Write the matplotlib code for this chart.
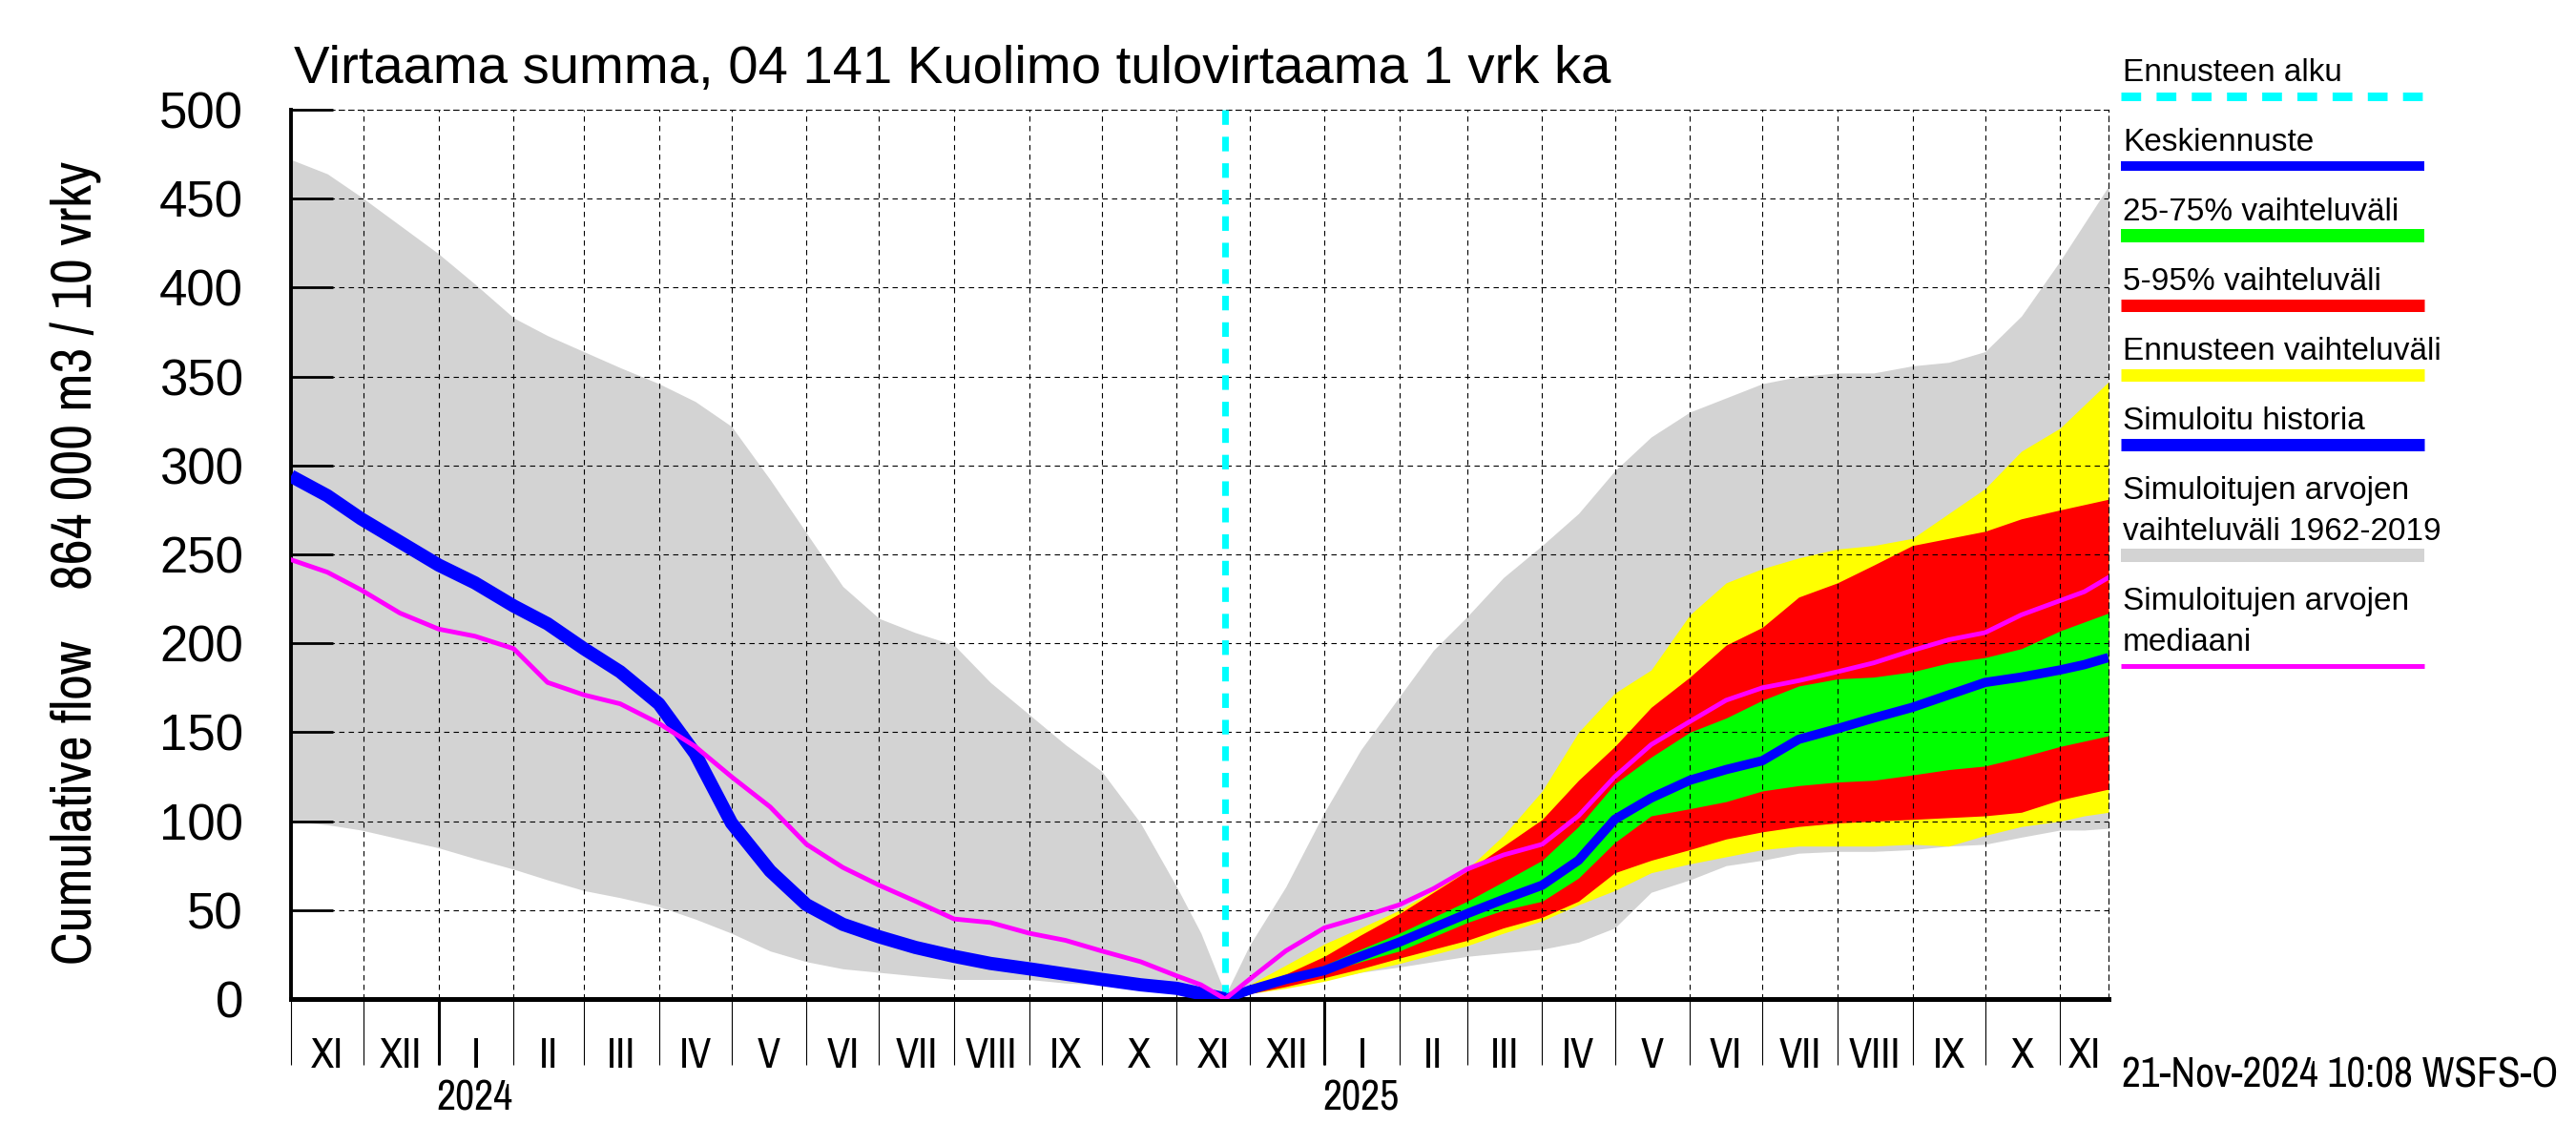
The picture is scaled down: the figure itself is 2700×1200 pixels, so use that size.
import numpy as np
import pandas as pd
import matplotlib
matplotlib.use('Agg')
import matplotlib.pyplot as plt
import matplotlib.dates as mdates
from matplotlib.lines import Line2D
from matplotlib.ticker import FixedLocator, FixedFormatter, NullFormatter, MultipleLocator
from matplotlib import font_manager

# Forecast start; all day offsets below are relative to it
start = pd.Timestamp('2024-11-21')
x_first = pd.Timestamp('2023-11-01')
x_last = pd.Timestamp('2025-11-21')

# HISTORY SIDE (cumulative flow summed back to the forecast start)
hist_days = [-386, -371, -357, -341, -325, -310, -294, -280, -265, -250, -234, -219, -204,
             -188, -173, -158, -143, -128, -112, -97, -81, -66, -51, -35, -20, -10, 0]
hist_sim = [294, 283, 270, 257, 244, 234, 221, 211, 197, 184, 166, 138, 99,
            72, 53, 42, 35, 29, 24, 20, 17, 14, 11, 8, 6, 3, 0]
hist_median = [247, 240, 230, 217, 208, 204, 197, 178, 171, 166, 155, 142, 125,
               108, 87, 74, 64, 55, 45, 43, 37, 33, 27, 21, 13, 8, 0]
hist_max = [472, 464, 451, 435, 419, 402, 383, 373, 364, 355, 346, 336, 322,
            292, 262, 232, 214, 206, 199, 178, 160, 143, 128, 99, 63, 37, 3]
hist_min = [100, 98, 95, 90, 85, 79, 73, 67, 61, 57, 52, 45, 37,
            27, 21, 17, 15, 13, 11, 11, 11, 9, 8, 5, 3, 1, 0]

# FORECAST SIDE (cumulative flow from the forecast start)
fc_days = [0, 10, 25, 41, 56, 72, 86, 100, 115, 131, 146, 161, 176, 192, 207, 222, 237,
           253, 268, 284, 299, 314, 329, 345, 355, 365]
fc_sim_max = [2, 30, 63, 105, 140, 170, 196, 215, 237, 255, 273, 297, 316, 330, 338, 346, 350,
              352, 352, 356, 358, 364, 384, 415, 436, 457]
fc_sim_min = [0, 3, 7, 11, 15, 18, 21, 24, 26, 28, 32, 40, 60, 67, 75, 78, 82,
              83, 83, 84, 86, 87, 91, 95, 95, 96]
fc_ens_max = [0, 8, 19, 31, 40, 50, 61, 73, 92, 117, 150, 172, 185, 216, 234, 242, 248,
              253, 255, 259, 273, 287, 308, 321, 334, 347]
fc_ens_min = [0, 3, 6, 10, 15, 20, 25, 30, 37, 44, 53, 61, 71, 76, 80, 84, 86,
              86, 86, 87, 86, 92, 97, 100, 103, 105]
fc_p95 = [0, 6, 14, 24, 36, 48, 60, 72, 86, 101, 123, 142, 164, 181, 199, 209, 226,
          234, 244, 255, 259, 263, 270, 275, 278, 281]
fc_p05 = [0, 3, 7, 12, 17, 23, 28, 33, 40, 46, 55, 71, 78, 84, 90, 94, 97,
          99, 100, 101, 102, 103, 105, 112, 115, 118]
fc_p75 = [0, 5, 12, 19, 28, 37, 46, 55, 66, 78, 97, 121, 136, 150, 158, 168, 176,
          180, 181, 184, 189, 192, 197, 207, 212, 217]
fc_p25 = [0, 4, 9, 15, 21, 27, 35, 43, 50, 55, 68, 88, 103, 107, 111, 117, 120,
          122, 123, 126, 129, 131, 136, 142, 145, 148]
fc_mean = [0, 5, 11, 16, 24, 32, 40, 48, 56, 64, 78, 101, 113, 123, 129, 134, 146,
           152, 158, 164, 171, 178, 181, 185, 188, 192]
fc_median = [0, 11, 27, 40, 46, 53, 62, 73, 81, 87, 103, 125, 143, 156, 168, 175, 179,
             184, 189, 196, 202, 206, 216, 224, 229, 237]

roman = ['I', 'II', 'III', 'IV', 'V', 'VI', 'VII', 'VIII', 'IX', 'X', 'XI', 'XII']

title = 'Virtaama summa, 04 141 Kuolimo tulovirtaama 1 vrk ka'
ylabel = 'Cumulative flow    864 000 m3 / 10 vrky'
stamp = '21-Nov-2024 10:08 WSFS-O'

legend_items = [
    (['Ennusteen alku'], '#00ffff', 9, True),
    (['Keskiennuste'], '#0000ff', 10, False),
    (['25-75% vaihteluväli'], '#00ff00', 14, False),
    (['5-95% vaihteluväli'], '#ff0000', 13, False),
    (['Ennusteen vaihteluväli'], '#ffff00', 13, False),
    (['Simuloitu historia'], '#0000ff', 13, False),
    (['Simuloitujen arvojen', 'vaihteluväli 1962-2019'], '#d3d3d3', 14, False),
    (['Simuloitujen arvojen', 'mediaani'], '#ff00ff', 5, False),
]

# fonts: regular Helvetica-like, plus a condensed one for axis annotations if there is one
names = {f.name for f in font_manager.fontManager.ttflist}
regular = 'Liberation Sans' if 'Liberation Sans' in names else 'DejaVu Sans'
plt.rcParams['font.family'] = regular
narrow_files = [f.fname for f in font_manager.fontManager.ttflist
                if f.name in ('Liberation Sans Narrow', 'DejaVu Sans')
                and 'ondensed' in f.fname + str(f.stretch) and f.weight in (400, 'normal')
                and f.style == 'normal']
if any('Narrow' in n for n in names):
    narrow = font_manager.FontProperties(family=[n for n in names if 'Narrow' in n][0])
    narrow_scale = 1.0
elif narrow_files:
    narrow = font_manager.FontProperties(fname=narrow_files[0])
    narrow_scale = 1.0
else:
    narrow = font_manager.FontProperties(family=regular)
    narrow_scale = 0.8

hx = start + pd.to_timedelta(hist_days, unit='D')
fx = start + pd.to_timedelta(fc_days, unit='D')

W, H = 2700, 1200
fig = plt.figure(figsize=(27, 12), dpi=100)
ax = fig.add_axes([305 / W, 1 - 1047 / H, (2210 - 305) / W, (1047 - 115) / H])

# envelopes
ax.fill_between(hx, hist_min, hist_max, color='#d3d3d3', lw=0, zorder=1)
ax.fill_between(fx, fc_sim_min, fc_sim_max, color='#d3d3d3', lw=0, zorder=1)
ax.fill_between(fx, fc_ens_min, fc_ens_max, color='#ffff00', lw=0, zorder=1.1)
ax.fill_between(fx, fc_p05, fc_p95, color='#ff0000', lw=0, zorder=1.2)
ax.fill_between(fx, fc_p25, fc_p75, color='#00ff00', lw=0, zorder=1.3)

# forecast start
ax.axvline(start, color='#00ffff', lw=5, dashes=(2.2, 1.8), zorder=2.8)

# lines
ax.plot(fx, fc_mean, color='#0000ff', lw=7, zorder=3, solid_capstyle='butt')
ax.plot(hx, hist_sim, color='#0000ff', lw=10, zorder=3, solid_capstyle='butt')
ax.plot(hx, hist_median, color='#ff00ff', lw=3.5, zorder=4)
ax.plot(fx, fc_median, color='#ff00ff', lw=3.5, zorder=4)

ax.set_xlim(x_first, x_last)
ax.set_ylim(0, 500)

# grid
ax.grid(True, which='major', color='black', lw=0.8, dashes=(5, 4))
ax.set_axisbelow(False)

# spines
ax.spines['left'].set_linewidth(2.8)
ax.spines['bottom'].set_linewidth(3.6)
for side in ['top', 'right']:
    ax.spines[side].set_linewidth(0.8)
    ax.spines[side].set_linestyle((0, (5, 4)))

# y axis
ax.yaxis.set_major_locator(MultipleLocator(50))
ax.tick_params(axis='y', direction='in', length=32, width=2, labelsize=38, pad=36)

# x axis: month boundaries as ticks, roman labels centred in each month
ax.xaxis.set_major_locator(mdates.MonthLocator())
ax.xaxis.set_major_formatter(NullFormatter())
months = pd.date_range(x_first, x_last, freq='MS')
mid_pos, mid_lab = [], []
for m in months:
    a = mdates.date2num(max(m, x_first))
    b = mdates.date2num(min(m + pd.offsets.MonthBegin(1), x_last))
    if b > a:
        mid_pos.append((a + b) / 2)
        mid_lab.append(roman[m.month - 1])
ax.xaxis.set_minor_locator(FixedLocator(mid_pos))
ax.xaxis.set_minor_formatter(FixedFormatter(mid_lab))
ax.tick_params(axis='x', which='major', direction='out', length=50, width=0.8)
ax.tick_params(axis='x', which='minor', length=0, pad=29)
for lab in ax.xaxis.get_minorticklabels():
    lab.set_fontproperties(narrow)
    lab.set_fontsize(34.5 * narrow_scale)

# year ticks and labels
sec = ax.secondary_xaxis('bottom')
sec.spines['bottom'].set_visible(False)
sec.xaxis.set_major_locator(mdates.YearLocator())
sec.xaxis.set_major_formatter(NullFormatter())
years = [2024, 2025]
sec.xaxis.set_minor_locator(FixedLocator([mdates.date2num(pd.Timestamp(y, 1, 16)) for y in years]))
sec.xaxis.set_minor_formatter(FixedFormatter([str(y) for y in years]))
sec.tick_params(which='major', direction='out', length=50, width=2.2)
sec.tick_params(which='minor', length=0, pad=61)
for lab in sec.xaxis.get_minorticklabels():
    lab.set_fontproperties(narrow)
    lab.set_fontsize(34.5 * narrow_scale)

# texts
fig.text(308 / W, 1 - 87 / H, title, fontsize=40.5, va='baseline', ha='left')
fig.text(80 / W, 1 - 590 / H, ylabel, fontproperties=narrow, fontsize=46 * narrow_scale,
         rotation=90, va='center', ha='center')
fig.text(2224 / W, 1 - 1128 / H, stamp, fontproperties=narrow, fontsize=34 * narrow_scale,
         va='center', ha='left')

# legend on the right
base = 85
for lines, col, lw_px, dashed in legend_items:
    for i, t in enumerate(lines):
        fig.text(2225 / W, 1 - (base + i * 43) / H, t, fontsize=24, va='baseline', ha='left')
    ly = base + (len(lines) - 1) * 43 + 16
    ln = Line2D([2223 / W, 2541 / W], [1 - ly / H, 1 - ly / H], transform=fig.transFigure,
                color=col, lw=lw_px * 0.72, solid_capstyle='butt')
    if dashed:
        ln.set_dashes((2.3, 1.8))
    fig.add_artist(ln)
    base = ly + 57

fig.savefig('out.png', dpi=100)
